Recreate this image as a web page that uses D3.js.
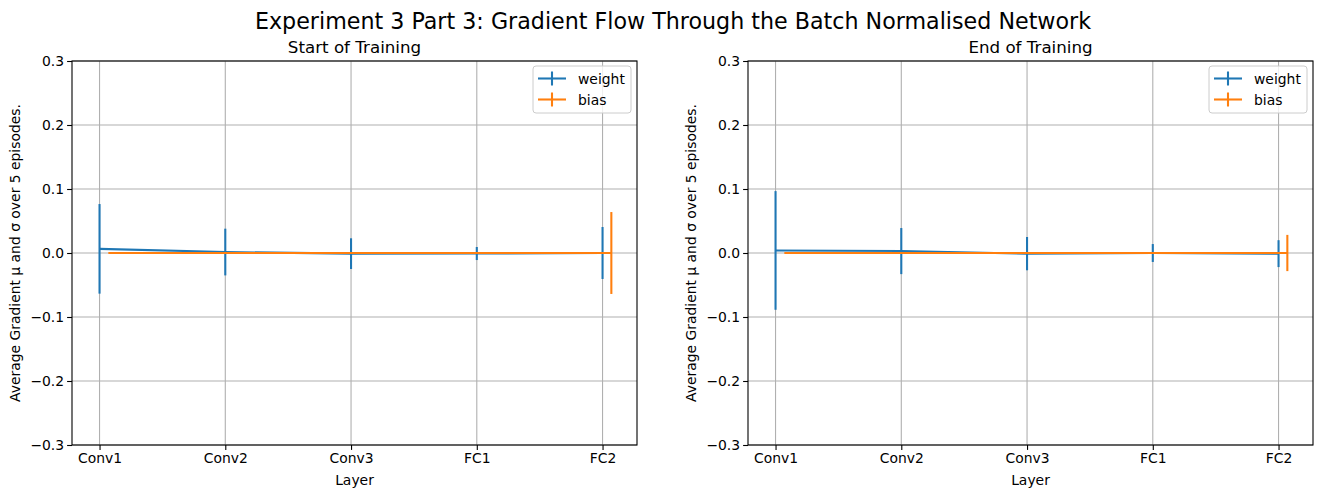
<!DOCTYPE html>
<html><head><meta charset="utf-8">
<script src="https://cdn.jsdelivr.net/npm/d3@7"></script>
<style>body{margin:0;background:#fff}text{font-family:"DejaVu Sans",sans-serif}</style>
</head><body>
<svg id="c" width="1323" height="498"></svg>
<script>
const layers = ["Conv1","Conv2","Conv3","FC1","FC2"];
const yTicks = [-0.3,-0.2,-0.1,0.0,0.1,0.2,0.3];
const panelTitles = ["Start of Training","End of Training"];
// Start of training
const startWeightMean = [0.0065, 0.0015, -0.001, -0.0008, 0.0];
const startWeightStd  = [0.070, 0.0365, 0.024, 0.0102, 0.0406];
const startBiasMean   = [0.0, 0.0, 0.0, 0.0, 0.0];
const startBiasStd    = [0.0, 0.0, 0.0, 0.0, 0.064];
// End of training
const endWeightMean = [0.004, 0.003, -0.001, 0.0, -0.001];
const endWeightStd  = [0.0927, 0.036, 0.026, 0.014, 0.021];
const endBiasMean   = [0.0, 0.0, 0.0, 0.0, 0.0];
const endBiasStd    = [0.0, 0.0, 0.0, 0.0, 0.0283];
const biasOffset = 0.07;

(function(){
const svg = d3.select("#c");
const blue = "#1f77b4", orange = "#ff7f0e";
const LW = 2.08;

svg.append("text").attr("x", 673).attr("y", 28.5).attr("text-anchor","middle")
  .attr("font-size", 22.2).text("Experiment 3 Part 3: Gradient Flow Through the Batch Normalised Network");

const panels = [
  {left:72, right:637, title:panelTitles[0], wm:startWeightMean, ws:startWeightStd, bm:startBiasMean, bs:startBiasStd},
  {left:748, right:1313, title:panelTitles[1], wm:endWeightMean, ws:endWeightStd, bm:endBiasMean, bs:endBiasStd}
];
const pTop = 61, pBottom = 445;

panels.forEach(p => {
  const w = p.right - p.left;
  const x = d3.scaleLinear().domain([-0.219, 4.274]).range([p.left, p.right]);
  const y = d3.scaleLinear().domain([-0.3, 0.3]).range([pBottom, pTop]);
  const g = svg.append("g");
  g.selectAll(".gx").data(layers).enter().append("line")
    .attr("x1",(d,i)=>x(i)).attr("x2",(d,i)=>x(i)).attr("y1",pTop).attr("y2",pBottom)
    .attr("stroke","#b0b0b0").attr("stroke-width",1.1);
  g.selectAll(".gy").data(yTicks).enter().append("line")
    .attr("x1",p.left).attr("x2",p.right).attr("y1",d=>y(d)).attr("y2",d=>y(d))
    .attr("stroke","#b0b0b0").attr("stroke-width",1.1);

  const series = [
    {m:p.wm, s:p.ws, off:0, c:blue},
    {m:p.bm, s:p.bs, off:biasOffset, c:orange}
  ];
  series.forEach(sr => {
    const pts = sr.m.map((v,i)=>({x:i+sr.off, v, s:sr.s[i]}));
    g.append("path").datum(pts)
      .attr("d", d3.line().x(d=>x(d.x)).y(d=>y(d.v)))
      .attr("fill","none").attr("stroke",sr.c).attr("stroke-width",LW);
    g.selectAll(null).data(pts.filter(d=>d.s>0)).enter().append("line")
      .attr("x1",d=>x(d.x)).attr("x2",d=>x(d.x))
      .attr("y1",d=>y(d.v+d.s)).attr("y2",d=>y(d.v-d.s))
      .attr("stroke",sr.c).attr("stroke-width",LW);
  });

  g.append("rect").attr("x",p.left).attr("y",pTop).attr("width",w).attr("height",pBottom-pTop)
    .attr("fill","none").attr("stroke","#000").attr("stroke-width",1.1);

  const xa = svg.append("g").attr("transform",`translate(0,${pBottom})`)
    .call(d3.axisBottom(x).tickValues([0,1,2,3,4]).tickFormat(i=>layers[i]).tickSize(4.9).tickPadding(3));
  const ya = svg.append("g").attr("transform",`translate(${p.left},0)`)
    .call(d3.axisLeft(y).tickValues(yTicks).tickFormat(d=>d3.format(".1f")(d).replace("-","\u2212")).tickSize(4.9).tickPadding(3));
  [xa,ya].forEach(a=>{
    a.select(".domain").remove();
    a.selectAll("text").attr("font-size",13.9).attr("fill","#000").style("font-family","DejaVu Sans");
    a.selectAll("line").attr("stroke","#000").attr("stroke-width",1.1);
  });

  svg.append("text").attr("x",(p.left+p.right)/2).attr("y",pTop-8).attr("text-anchor","middle")
    .attr("font-size",16.7).text(p.title);
  svg.append("text").attr("x",(p.left+p.right)/2).attr("y",485).attr("text-anchor","middle")
    .attr("font-size",13.9).text("Layer");
  svg.append("text").attr("transform",`translate(${p.left-52},${(pTop+pBottom)/2}) rotate(-90)`)
    .attr("text-anchor","middle").attr("font-size",13.9).text("Average Gradient \u03bc and \u03c3 over 5 episodes.");

  const lx = p.right - 104, ly = 66;
  const lg = svg.append("g");
  lg.append("rect").attr("x",lx).attr("y",ly).attr("width",98).attr("height",47).attr("rx",3)
    .attr("fill","#fff").attr("fill-opacity",0.8).attr("stroke","#cccccc").attr("stroke-width",1);
  [{n:"weight",c:blue},{n:"bias",c:orange}].forEach((e,i)=>{
    const yy = ly + 12.5 + i*21;
    lg.append("line").attr("x1",lx+5).attr("x2",lx+33).attr("y1",yy).attr("y2",yy).attr("stroke",e.c).attr("stroke-width",LW);
    lg.append("line").attr("x1",lx+19).attr("x2",lx+19).attr("y1",yy-7).attr("y2",yy+7).attr("stroke",e.c).attr("stroke-width",LW);
    lg.append("text").attr("x",lx+45).attr("y",yy+5).attr("font-size",13.9).text(e.n);
  });
});
})();
</script>
</body></html>
